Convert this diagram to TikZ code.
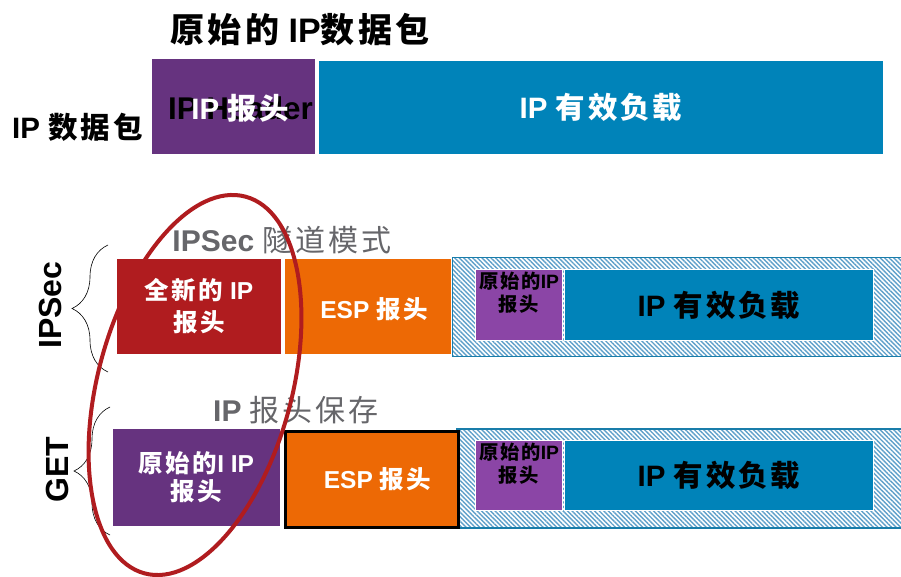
\documentclass[tikz,border=0pt]{standalone}
\usepackage{fontspec}
\setmainfont{Liberation Sans}
\newfontfamily\cjk{Noto Sans CJK SC}[LetterSpace=10]
\usetikzlibrary{positioning,patterns.meta,decorations.pathreplacing}

\definecolor{hdrpurple}{RGB}{102,51,127}
\definecolor{loadblue}{RGB}{0,131,185}
\definecolor{newred}{RGB}{176,28,31}
\definecolor{esporange}{RGB}{237,105,5}
\definecolor{origpurple}{RGB}{139,69,166}
\definecolor{labelgray}{RGB}{102,102,106}
\definecolor{hatchblue}{RGB}{95,160,202}
\definecolor{edgeblue}{RGB}{25,125,170}

\newcommand{\fs}[2]{\fontsize{#1}{#2}\selectfont}

\begin{document}
\begin{tikzpicture}[x=1pt, y=-1pt,
    every node/.style={inner sep=0pt, font=\bfseries},
    field/.style={anchor=north west, draw=white, line width=1pt, text=white, align=center},
    tunnel/.style={anchor=north west, draw=edgeblue, line width=1.5pt,
      pattern={Lines[angle=-45, distance=3.2pt, line width=1.4pt]}, pattern color=hatchblue},
    bigtext/.style={font=\bfseries\fs{29.5}{34}},
    midtext/.style={font=\bfseries\fs{24.5}{32}},
    smalltext/.style={font=\bfseries\fs{19.3}{23}, align=center},
    labeltext/.style={font=\bfseries\fs{30}{34}, text=labelgray},
    sidetext/.style={font=\bfseries\fs{32}{34}, rotate=90},
    brace/.style={decorate, decoration={brace, amplitude=36pt}, line width=0.6pt},
    ring/.style={draw=newred, line width=4pt}
  ]
  \fill[white] (0,0) rectangle (901,577);
  \useasboundingbox (0,0) rectangle (901,577);

  % original packet
  \node[font=\bfseries\fs{34}{36}] (title) at (300,30) {{\cjk 原始的} IP{\cjk 数据包}};
  \node[bigtext, anchor=west] (pktlbl) at (12,127) {IP {\cjk 数据包}};
  \node[field, fill=hdrpurple, minimum width=164pt, minimum height=96pt] (hdr) at (151,58) {};
  \node[font=\bfseries\fs{31.4}{34}] (hdren) at ([xshift=7pt, yshift=-2pt]hdr.center) {IP Header};
  \node[bigtext, text=white] (hdrzh) at (hdren) {IP {\cjk 报头}};
  \node[field, bigtext, fill=loadblue, minimum width=565pt, minimum height=94pt] (load) at (318,60) {IP {\cjk 有效负载}};

  % IPSec tunnel mode
  \node[labeltext] (tunmode) at (282,240) {IPSec {\cjk\mdseries 隧道模式}};
  \node[field, midtext, fill=newred, minimum width=165pt, minimum height=96pt] (newhdr) at (116,258) {{\cjk 全新的} IP\\{\cjk 报头}};
  \node[field, midtext, fill=esporange, minimum width=167pt, minimum height=96pt] (esp1) at (284,258) {};
  \node[midtext, text=white] (esp1txt) at ([xshift=6pt, yshift=-3pt]esp1.center) {ESP {\cjk 报头}};
  \node[tunnel, minimum width=452pt, minimum height=99pt] (tun1) at (452,257) {};
  \node[field, fill=origpurple, minimum width=87pt, minimum height=71pt] (orig1) at (475,269) {};
  \node[smalltext, below=3pt of orig1.north] (orig1txt) {{\cjk 原始的}IP\\{\cjk 报头}};
  \node[field, bigtext, text=black, fill=loadblue, minimum width=309pt, minimum height=71pt] (load1) at (564,269) {IP {\cjk 有效负载}};

  % GET
  \node[labeltext] (keepmode) at (296,410) {IP {\cjk\mdseries 报头保存}};
  \node[field, font=\bfseries\fs{24.5}{28}, fill=hdrpurple, minimum width=168pt, minimum height=98pt] (orighdr) at (112,428) {{\cjk 原始的}I IP\\{\cjk 报头}};
  \node[tunnel, minimum width=450pt, minimum height=99pt] (tun2) at (456,428) {};
  \node[field, midtext, fill=esporange, draw=black, line width=3pt, minimum width=173pt, minimum height=96pt] (esp2) at (283.5,429.5) {};
  \node[midtext, text=white] (esp2txt) at ([xshift=6pt]esp2.center) {ESP {\cjk 报头}};
  \node[field, fill=origpurple, minimum width=87pt, minimum height=70pt] (orig2) at (475,440) {};
  \node[smalltext, below=3pt of orig2.north] (orig2txt) {{\cjk 原始的}IP\\{\cjk 报头}};
  \node[field, bigtext, text=black, fill=loadblue, minimum width=309pt, minimum height=70pt] (load2) at (564,440) {IP {\cjk 有效负载}};

  % braces and side labels
  \draw[brace] (108,372) -- (108,245);
  \draw[brace] (110,535) -- (110,407);
  \node[sidetext] (ipseclbl) at (50,305) {IPSec};
  \node[sidetext] (getlbl) at (57,470) {GET};

  \draw[ring, rotate around={-15:(195,385)}] (195,385) ellipse [x radius=97pt, y radius=195pt];
\end{tikzpicture}
\end{document}
